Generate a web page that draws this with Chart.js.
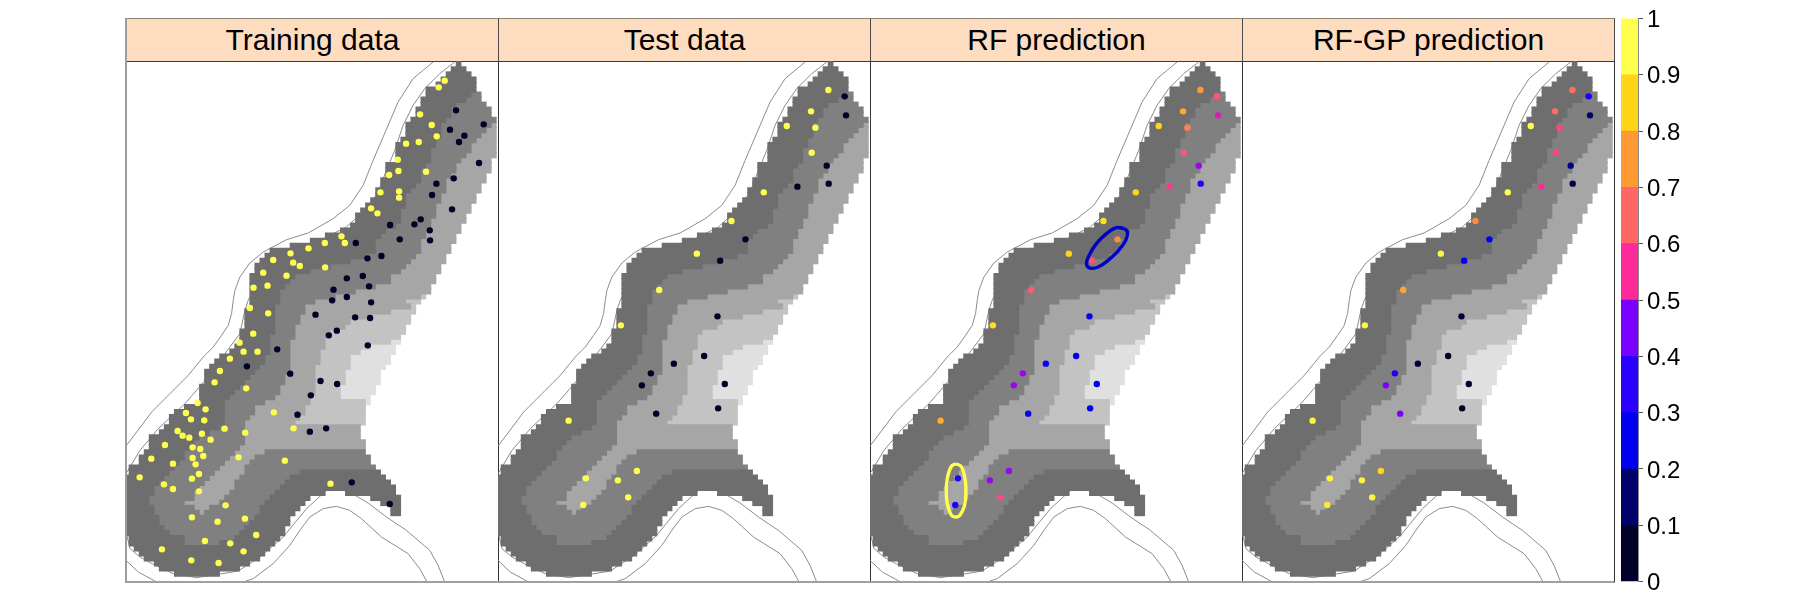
<!DOCTYPE html>
<html>
<head>
<meta charset="utf-8">
<title>Training data, test data, RF and RF-GP prediction</title>
<script src="https://cdn.jsdelivr.net/npm/chart.js@4/dist/chart.umd.min.js"></script>
<style>
  html, body { margin: 0; padding: 0; background: #fff; }
  body { position: relative; width: 1800px; height: 600px; overflow: hidden; font-family: "Liberation Sans", Arial, sans-serif; }
  .strip {
    position: absolute; top: 18px; height: 44px; width: 373px; box-sizing: border-box;
    background: #fedcc0; border-top: 1px solid #8d8075; border-bottom: 1px solid #3a3a3a;
    border-left: 1px solid #4a4a4a; border-right: 1px solid #4a4a4a;
    font-size: 30px; line-height: 42px; text-align: center; color: #000;
  }
  .panel { position: absolute; top: 61px; width: 372px; height: 521px; }
  .frame { position: absolute; top: 61px; width: 372px; height: 520px; border-right: 1px solid #333; border-bottom: 2px solid #a0a0a0; box-sizing: content-box; pointer-events: none; }
  #leftEdge { position: absolute; left: 125px; top: 18px; width: 2px; height: 565px; background: #9c9c9c; }
  #legend { position: absolute; left: 1621px; top: 0; }
</style>
</head>
<body>
<canvas id="legend" width="90" height="600"></canvas>
<script>
const panelTitles = ["Training data", "Test data", "RF prediction", "RF-GP prediction"];
const grays = ["#6e6e6e", "#808080", "#a6a6a6", "#c3c3c3", "#e0e0e0"];

// raster, top row first: [startCol, level, col, level, col, ...] (level -1 = no data)
const topRow = 102;
const rasterRows = [
  [65,0,66],
  [64,0,67],
  [63,0,68],
  [62,0,69],
  [61,0,69],
  [59,0,69],
  [59,0,68,1,70],
  [58,0,67,1,70],
  [58,0,65,1,71],
  [57,0,64,1,72],
  [57,0,64,1,72],
  [56,0,63,1,73],
  [55,0,62,1,72,2,73],
  [55,0,62,1,71,2,73],
  [55,0,62,1,70,2,73],
  [54,0,61,1,69,2,73],
  [53,0,61,1,68,2,73],
  [53,0,60,1,68,2,73],
  [53,0,60,1,67,2,73],
  [53,0,60,1,66,2,72],
  [51,0,59,1,65,2,72],
  [51,0,58,1,65,2,72],
  [51,0,58,1,64,2,71],
  [50,0,58,1,63,2,71],
  [50,0,57,1,63,2,70],
  [49,0,56,1,63,2,70],
  [49,0,55,1,62,2,69],
  [48,0,55,1,62,2,69],
  [47,0,55,1,61,2,68],
  [46,0,54,1,61,2,68],
  [45,0,54,1,61,2,67],
  [45,0,54,1,60,2,67],
  [44,0,53,1,60,2,66],
  [42,0,51,1,59,2,66],
  [39,0,50,1,59,2,65],
  [36,0,49,1,58,2,65],
  [32,0,49,1,58,2,64],
  [28,0,49,1,58,2,64],
  [27,0,47,1,57,2,63],
  [26,0,44,1,56,2,63],
  [25,0,40,1,55,2,62],
  [25,0,36,1,54,2,62],
  [24,0,33,1,52,2,61],
  [24,0,32,1,52,2,61],
  [24,0,31,1,49,2,60],
  [24,0,30,1,45,2,60],
  [24,0,30,1,41,2,58,3,59],
  [24,0,30,1,37,2,55,3,58],
  [24,0,29,1,35,2,56,3,57],
  [23,0,29,1,35,2,52,3,57],
  [23,0,29,1,34,2,48,3,56],
  [23,0,29,1,34,2,44,3,56],
  [23,0,29,1,33,2,43,3,55],
  [22,0,29,1,33,2,40,3,55],
  [22,0,28,1,33,2,39,3,54],
  [22,0,28,1,32,2,39,3,52,4,54],
  [21,0,28,1,32,2,39,3,48,4,53],
  [20,0,28,1,32,2,38,3,46,4,53],
  [18,0,27,1,32,2,38,3,44,4,52],
  [17,0,27,1,32,2,38,3,44,4,52],
  [16,0,26,1,32,2,37,3,44,4,51],
  [15,0,25,1,32,2,37,3,43,4,50],
  [15,0,24,1,31,2,37,3,43,4,50],
  [15,0,23,1,31,2,37,3,43,4,50],
  [14,0,22,1,30,2,37,3,42,4,49],
  [14,0,21,1,30,2,37,3,42,4,49],
  [14,0,20,1,29,2,36,3,42,4,48],
  [14,0,19,1,27,2,36,3,47,4,48],
  [11,0,19,1,25,2,35,3,47],
  [9,0,19,1,25,2,35,3,47],
  [8,0,19,1,24,2,34,3,47],
  [8,0,19,1,23,2,33,3,47],
  [7,0,18,1,23,2,46],
  [6,0,16,1,23,2,46],
  [4,0,14,1,23,2,46],
  [4,0,13,1,23,2,47],
  [4,0,12,1,22,2,47],
  [3,0,11,1,21,2,27,1,47],
  [2,0,11,1,20,2,25,1,48],
  [2,0,10,1,19,2,24,1,48],
  [0,0,9,1,18,2,23,1,49],
  [0,0,8,1,17,2,23,1,34,0,50],
  [-1,0,7,1,16,2,22,1,32,0,51],
  [-1,0,6,1,15,2,21,1,31,0,52],
  [-1,0,5,1,14,2,21,1,30,0,53],
  [-1,0,5,1,13,2,20,1,29,0,39,-1,43,0,53],
  [-1,0,4,1,13,2,19,1,28,0,36,-1,48,0,54],
  [-1,0,4,1,11,2,18,1,27,0,35,-1,50,0,54],
  [-1,0,5,1,13,2,16,1,26,0,34,-1,52,0,54],
  [-1,0,5,1,14,2,15,1,26,0,33,-1,52,0,54],
  [-1,0,6,1,25,0,32],
  [-1,0,6,1,24,0,32],
  [-1,0,7,1,23,0,31],
  [-1,0,8,1,22,0,31],
  [0,0,11,1,21,0,30],
  [0,0,11,1,18,0,29],
  [1,0,28],
  [2,0,27],
  [3,0,26],
  [5,0,24],
  [6,0,22],
  [9,0,18]
];

// map lines, [easting, northing]
const contourOuter = [[940,1560],[880,1510],[835,1440],[790,1335],[760,1265],[730,1190],[690,1130],[640,1090],[565,1047],[500,1027],[430,990],[390,957],[360,915],[345,875],[340,845],[335,805],[325,770],[305,740],[280,705],[250,675],[205,620],[150,565],[95,510],[50,450],[18,408]];
const contourInner = [[1005,1560],[960,1525],[915,1480],[880,1430],[850,1370],[825,1295],[800,1235],[775,1170],[745,1125],[680,1065],[600,1025],[500,995],[440,955],[410,915],[395,865],[385,845],[375,815],[360,745],[330,705],[300,665],[260,610],[195,535],[115,460],[90,430],[60,395],[18,325]];
const contourCorner = [[18,65],[55,30],[110,0]];
const contourBay = [[370,0],[400,10],[460,55],[510,110],[540,155],[570,195],[610,220],[650,227],[690,215],[725,190],[785,135],[865,85],[900,40],[922,0]];
const contourSouth = [[18,150],[30,100],[60,75],[100,53],[160,25],[230,13],[295,23],[355,33],[420,75],[490,135],[560,220],[620,275],[680,275],[745,237],[800,195],[860,155],[930,95],[955,50],[975,0]];

// training sites
const trainYesX = [975,957,901,936,951,859,897,834,836,808,919,782,838,838,754,773,665,675,615,566,512,460,520,540,616,430,500,443,401,390,445,400,359,371,413,330,300,284,379,233,257,198,213,253,462,521,314,376,173,188,208,246,272,135,218,241,250,218,94,356,495,159,227,59,237,216,132,159,237,632,317,216,293,375,409,255,331,126,371,214,296];
const trainYesY = [1504,1484,1403,1371,1337,1315,1320,1267,1233,1221,1231,1169,1172,1153,1121,1106,1037,1017,1017,1001,986,966,958,948,944,928,919,889,883,822,806,745,718,691,691,670,633,599,581,537,518,507,488,485,509,461,460,448,453,439,433,445,427,411,404,399,378,372,370,374,364,355,353,314,324,310,293,279,272,295,230,194,181,190,141,123,116,98,92,65,57];
const trainNoX = [1009,1092,991,1034,1018,1078,1002,950,937,997,903,884,811,930,931,840,708,785,743,729,681,748,641,681,637,754,587,706,751,651,627,472,744,381,511,602,652,573,533,570,619,696,810];
const trainNoY = [1415,1373,1357,1339,1320,1257,1211,1195,1161,1118,1088,1073,1071,1055,1025,1028,1017,978,971,918,911,887,877,855,845,839,802,794,792,754,740,698,710,647,625,603,594,560,502,451,461,299,234];

// test sites
const testX = [1010,958,885,971,960,816,719,615,502,1059,1063,1005,1011,917,761,685,387,230,282,435,378,409,274,677,637,546,477,450,699,493,679];
const testY = [1476,1412,1368,1363,1288,1169,1083,985,876,1457,1400,1249,1195,1186,1028,964,770,484,311,333,305,254,231,797,678,655,626,590,594,505,521];
const testObserved = [1,1,1,1,1,1,1,1,1,0,0,0,0,0,0,0,1,1,1,1,1,1,1,0,0,0,0,0,0,0,0];
const rfPredicted = [0.75,0.78,0.85,0.7,0.62,0.85,0.87,0.85,0.63,0.62,0.52,0.47,0.33,0.57,0.72,0.62,0.87,0.78,0.33,0.47,0.47,0.6,0.33,0.27,0.25,0.28,0.47,0.47,0.25,0.27,0.25];
const gpPredicted = [0.67,0.67,0.95,0.59,0.59,0.95,0.72,0.93,0.77,0.3,0.15,0.17,0.1,0.55,0.25,0.25,0.93,0.93,0.92,0.85,0.92,0.92,0.9,0.08,0.05,0.08,0.32,0.45,0.05,0.45,0.05];

// ellipses marked on the RF panel
const blueRing = [[783,1060],[758,1063],[728,1045],[698,1015],[676,980],[668,955],[678,942],[703,945],[733,965],[763,993],[786,1025],[791,1050],[783,1060]];
const yellowRing = [[277,355],[293,345],[304,305],[306,270],[302,230],[288,200],[277,195],[263,200],[250,235],[247,275],[251,315],[263,348],[277,355]];

// colour key
const keyEdges = [0,0.1,0.2,0.3,0.4,0.5,0.6,0.7,0.8,0.9,1];
const keyColors = ["#000028","#00006a","#0000f0","#2a00ff","#7a00ff","#ff2a9a","#ff6666","#ff9a33","#ffd419","#ffff4d"];
const keyTicks = ["0","0.1","0.2","0.3","0.4","0.5","0.6","0.7","0.8","0.9","1"];

const colWidth = 15.11, rowHeight = 15.12, colOrigin = 27, rowOrigin = 18;

function hexToRgb(h) {
  return [parseInt(h.slice(1, 3), 16), parseInt(h.slice(3, 5), 16), parseInt(h.slice(5, 7), 16)];
}

// value to colour: blends between the key's band colours
function rampColor(v) {
  const t = Math.min(9, Math.max(0, v * 10 - 0.5));
  const i = Math.min(8, Math.floor(t));
  const a = hexToRgb(keyColors[i]), b = hexToRgb(keyColors[i + 1]);
  const f = t - i;
  return "rgb(" + a.map((c, k) => Math.round(c + (b[k] - c) * f)).join(",") + ")";
}

function rasterData(level) {
  const out = [];
  rasterRows.forEach((row, r) => {
    const north = rowOrigin + rowHeight * (topRow - r - 0.5);
    for (let i = 1; i < row.length; i += 2) {
      if (row[i] === level) {
        out.push({ x: [colOrigin + colWidth * row[i - 1], colOrigin + colWidth * row[i + 1]], y: north });
      }
    }
  });
  return out;
}

function lineSet(points, color, width, order, tension) {
  return {
    type: "line", data: points,
    borderColor: color, borderWidth: width, pointRadius: 0, fill: false, order: order, tension: tension || 0
  };
}

function pointSet(xs, ys, values) {
  return {
    type: "scatter",
    data: xs.map((x, i) => ({ x: x, y: ys[i] })),
    backgroundColor: values.map(rampColor), borderWidth: 0, pointRadius: 3.2, order: 2
  };
}

function baseSets() {
  // slightly thicker than a row so no pale seams show between rows
  const sets = grays.map((g, level) => ({
    type: "bar", indexAxis: "y", grouped: false, data: rasterData(level),
    backgroundColor: g, barThickness: 5.7, order: 4
  }));
  [contourOuter, contourInner, contourCorner, contourBay, contourSouth].forEach((c) => {
    sets.push(lineSet(c.map((p) => ({ x: p[0], y: p[1] })), "#8c8c8c", 1, 6));
  });
  return sets;
}

function addPanel(i, extra) {
  const left = Math.floor(126 + 372.33 * i);
  const strip = document.createElement("div");
  strip.className = "strip";
  strip.style.left = left + "px";
  strip.textContent = panelTitles[i];
  document.body.appendChild(strip);

  const canvas = document.createElement("canvas");
  canvas.className = "panel";
  canvas.width = 372;
  canvas.height = 521;
  canvas.style.left = left + "px";
  document.body.appendChild(canvas);

  const frame = document.createElement("div");
  frame.className = "frame";
  frame.style.left = left + "px";
  document.body.appendChild(frame);

  new Chart(canvas, {
    type: "scatter",
    data: { datasets: baseSets().concat(extra) },
    options: {
      responsive: false,
      animation: false,
      events: [],
      layout: { padding: 0, autoPadding: false },
      plugins: { legend: { display: false }, tooltip: { enabled: false }, title: { display: false } },
      scales: {
        x: { type: "linear", display: false, min: 18, max: 1135, offset: false },
        y: { type: "linear", display: false, min: 0, max: 1563, offset: false }
      }
    }
  });
}

addPanel(0, [
  pointSet(trainYesX, trainYesY, trainYesX.map(() => 1)),
  pointSet(trainNoX, trainNoY, trainNoX.map(() => 0))
]);
addPanel(1, [pointSet(testX, testY, testObserved)]);
addPanel(2, [
  pointSet(testX, testY, rfPredicted),
  lineSet(blueRing.map((p) => ({ x: p[0], y: p[1] })), "#0000c8", 3.4, 1, 0.4),
  lineSet(yellowRing.map((p) => ({ x: p[0], y: p[1] })), "#ffff4d", 3.4, 1, 0.4)
]);
addPanel(3, [pointSet(testX, testY, gpPredicted)]);

// drawn after the panels so the strong left edge stays on top of them
const leftEdge = document.createElement("div");
leftEdge.id = "leftEdge";
document.body.appendChild(leftEdge);

new Chart(document.getElementById("legend"), {
  type: "bar",
  data: {
    labels: [""],
    datasets: keyColors.map((c, i) => ({
      data: [[keyEdges[i], keyEdges[i + 1]]], backgroundColor: c, grouped: false, barThickness: 17
    }))
  },
  options: {
    responsive: false,
    animation: false,
    events: [],
    layout: { padding: { top: 18, bottom: 18 } },
    plugins: { legend: { display: false }, tooltip: { enabled: false } },
    scales: {
      x: { display: false },
      y: {
        position: "right", min: 0, max: 1,
        afterFit: (scale) => { scale.width = 73; },
        afterBuildTicks: (scale) => { scale.ticks = keyEdges.map((v) => ({ value: v })); },
        grid: { drawOnChartArea: false, tickLength: 5, tickColor: "#555", tickWidth: 1 },
        border: { color: "#888" },
        ticks: {
          autoSkip: false, padding: 4, color: "#000", labelOffset: 2,
          font: { family: "Liberation Sans", size: 24 },
          callback: (v, i) => keyTicks[i]
        }
      }
    }
  }
});
</script>
</body>
</html>
